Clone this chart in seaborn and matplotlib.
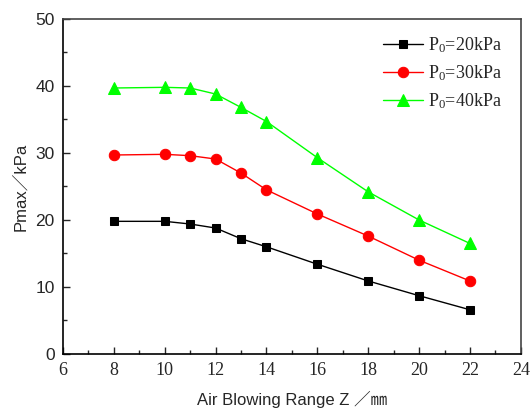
import matplotlib
matplotlib.use("Agg")
import matplotlib.pyplot as plt
import seaborn as sns
import pandas as pd

x_vals = [8, 10, 11, 12, 13, 14, 16, 18, 20, 22]
p20 = [19.8, 19.8, 19.4, 18.8, 17.2, 16.0, 13.4, 10.9, 8.7, 6.6]
p30 = [29.7, 29.8, 29.6, 29.1, 27.0, 24.5, 20.9, 17.6, 14.0, 10.9]
p40 = [39.7, 39.8, 39.7, 38.8, 36.8, 34.7, 29.3, 24.2, 20.0, 16.5]
series_labels = [r"P$_0$=20kPa", r"P$_0$=30kPa", r"P$_0$=40kPa"]
colors = ["#000000", "#ff0000", "#00ff00"]
markers = ["s", "o", "^"]
msizes = [6, 7.5, 8.5]

sns.set_style("ticks")
plt.rcParams['font.family'] = ['Liberation Serif', 'DejaVu Serif']
plt.rcParams['mathtext.fontset'] = 'custom'
plt.rcParams['mathtext.rm'] = 'Liberation Serif'
plt.rcParams['mathtext.it'] = 'Liberation Serif'

rows = []
for lab, ys in zip(series_labels, [p20, p30, p40]):
    for xv, yv in zip(x_vals, ys):
        rows.append({"x": xv, "y": yv, "series": lab})
df = pd.DataFrame(rows)

fig = plt.figure(figsize=(5.32, 4.11), dpi=100)
ax = fig.add_axes([0.1184, 0.1387, 0.8606, 0.8151])

for lab, c, m, ms in zip(series_labels, colors, markers, msizes):
    sub = df[df["series"] == lab]
    sns.lineplot(data=sub, x="x", y="y", ax=ax, color=c, marker=m,
                 markersize=ms, markeredgecolor=c, linewidth=1.0,
                 label=lab, legend=False)

ax.set_xlim(6, 24)
ax.set_ylim(0, 50)
ax.set_xticks(range(6, 25, 2))
ax.set_xticks(range(7, 24, 2), minor=True)
ax.set_yticks(range(0, 51, 10))
ax.set_yticks(range(5, 50, 10), minor=True)
ax.tick_params(axis='both', which='major', direction='in', length=5, width=1,
               top=False, right=False, labelsize=13, pad=6)
ax.tick_params(axis='both', which='minor', direction='in', length=3, width=1,
               top=False, right=False)
for lbl in ax.get_yticklabels():
    lbl.set_fontfamily(['Liberation Sans', 'DejaVu Sans'])
    lbl.set_fontsize(12.5)
for lbl in ax.get_xticklabels():
    lbl.set_fontfamily(['Liberation Serif', 'DejaVu Serif'])
    lbl.set_fontsize(13)

for s in ["left", "bottom"]:
    ax.spines[s].set_color("black")
    ax.spines[s].set_linewidth(1.2)
for s in ["top", "right"]:
    ax.spines[s].set_color("#444444")
    ax.spines[s].set_linewidth(1.2)

ax.set_xlabel("Air Blowing Range Z \uff0f\u339c", fontsize=12,
              family=['Liberation Sans', 'Noto Sans CJK SC', 'DejaVu Sans'], labelpad=8)
ax.set_ylabel("Pmax\uff0fkPa", fontsize=12,
              family=['Liberation Sans', 'Noto Sans CJK SC', 'DejaVu Sans'], labelpad=5)

leg = ax.legend(loc="upper right", bbox_to_anchor=(0.995, 1.0), frameon=False,
                fontsize=13, handlelength=2.2, handletextpad=0.3, labelspacing=0.45)

fig.savefig("out.png", dpi=100)
